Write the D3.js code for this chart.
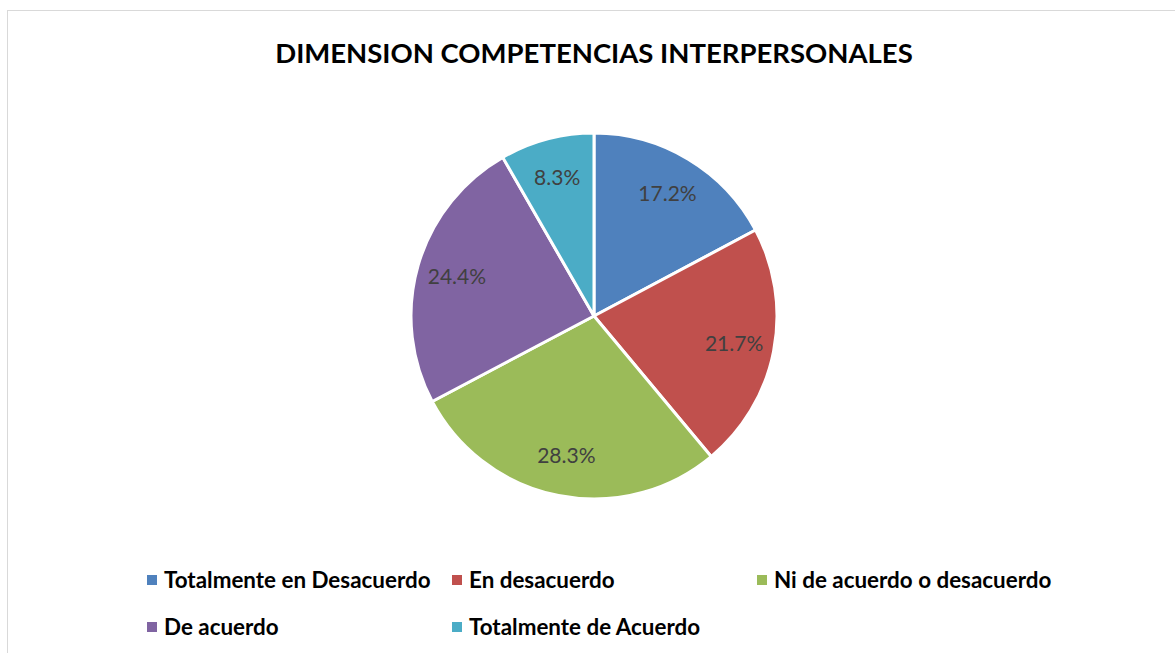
<!DOCTYPE html>
<html>
<head>
<meta charset="utf-8">
<script src="https://cdn.jsdelivr.net/npm/d3@7"></script>
<style>
  body { margin: 0; background: #fff; }
  text { font-family: Lato, "Open Sans", sans-serif; }
</style>
</head>
<body>
<div id="chart"></div>
<script>
const categories = [
  "Totalmente en Desacuerdo",
  "En desacuerdo",
  "Ni de acuerdo o desacuerdo",
  "De acuerdo",
  "Totalmente de Acuerdo"
];
const values = [17.2, 21.7, 28.3, 24.4, 8.3];
const colors = ["#4F81BD", "#C0504D", "#9BBB59", "#8064A2", "#4BACC6"];
const title = "DIMENSION COMPETENCIAS INTERPERSONALES";

const width = 1175;
const height = 653;
const cx = 594, cy = 316, radius = 183;

const svg = d3.select("#chart").append("svg")
  .attr("width", width)
  .attr("height", height);

// chart frame
svg.append("rect")
  .attr("x", 7.5).attr("y", 10.5)
  .attr("width", width + 20).attr("height", height + 20)
  .attr("fill", "none")
  .attr("stroke", "#d9d9d9")
  .attr("stroke-width", 1);

svg.append("text")
  .attr("x", cx).attr("y", 63)
  .attr("text-anchor", "middle")
  .attr("font-size", 27.5)
  .attr("font-weight", "bold")
  .attr("fill", "#000")
  .text(title);

const data = categories.map((c, i) => ({ name: c, value: values[i], color: colors[i] }));
const pie = d3.pie().sort(null).value(d => d.value);
const arc = d3.arc().innerRadius(0).outerRadius(radius);
const labelArc = d3.arc().innerRadius(radius * 0.78).outerRadius(radius * 0.78);

const g = svg.append("g").attr("transform", `translate(${cx},${cy})`);

g.selectAll("path")
  .data(pie(data))
  .join("path")
  .attr("d", arc)
  .attr("fill", d => d.data.color)
  .attr("stroke", "#fff")
  .attr("stroke-width", 3)
  .attr("stroke-linejoin", "round");

g.selectAll("text.lbl")
  .data(pie(data))
  .join("text")
  .attr("class", "lbl")
  .attr("transform", d => `translate(${labelArc.centroid(d)})`)
  .attr("text-anchor", "middle")
  .attr("dy", "0.35em")
  .attr("font-size", 21)
  .attr("fill", "#404040")
  .text(d => d.data.value.toFixed(1) + "%");

// legend
const legendCols = [147, 452, 757];
const legendRows = [580, 627];
const legend = svg.append("g");
data.forEach((d, i) => {
  const x = legendCols[i % 3];
  const y = legendRows[Math.floor(i / 3)];
  legend.append("rect")
    .attr("x", x).attr("y", y - 5)
    .attr("width", 10).attr("height", 10)
    .attr("fill", d.color);
  legend.append("text")
    .attr("x", x + 17).attr("y", y)
    .attr("dy", "0.35em")
    .attr("font-size", 22.4)
    .attr("font-weight", "bold")
    .attr("fill", "#000")
    .text(d.name);
});
</script>
</body>
</html>
